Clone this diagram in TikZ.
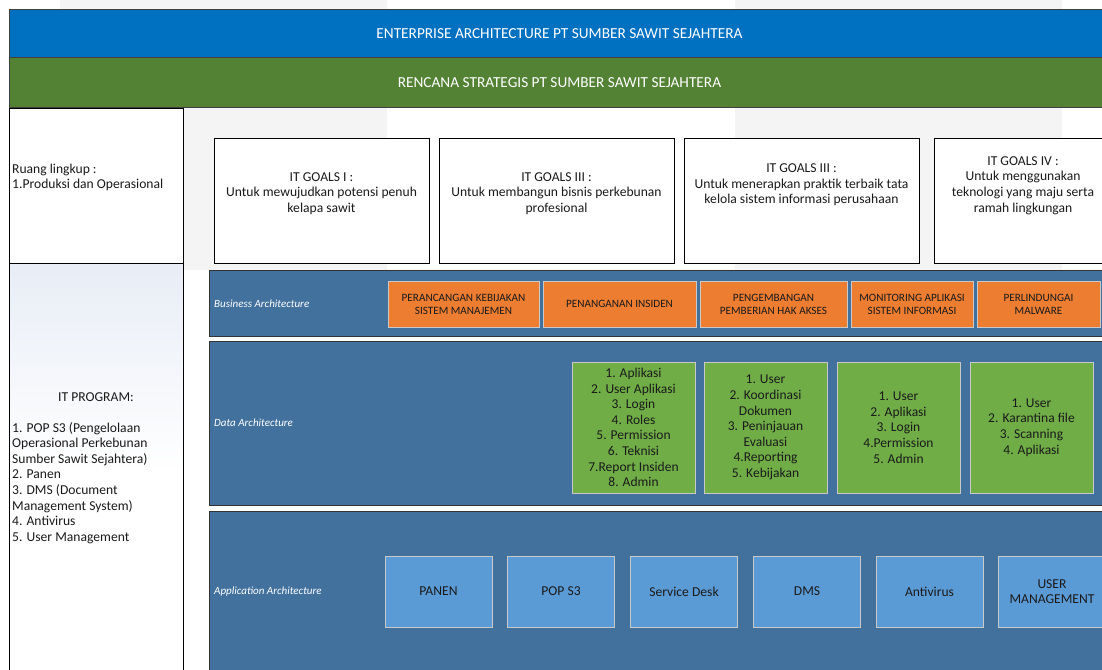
\documentclass[tikz,border=0pt]{standalone}
\usepackage{fontspec}
\setmainfont{Carlito}
\definecolor{hdrblue}{HTML}{0070C0}
\definecolor{hdrgreen}{HTML}{548235}
\definecolor{layerblue}{HTML}{41719C}
\definecolor{orangebox}{HTML}{ED7D31}
\definecolor{greenbox}{HTML}{70AD47}
\definecolor{appbox}{HTML}{5B9BD5}
\definecolor{lightbord}{HTML}{C9C9C9}
\definecolor{wm}{HTML}{F4F4F4}
\definecolor{progtop}{HTML}{E8EDF6}
\definecolor{txtdark}{HTML}{1A1A1A}
\begin{document}
\begin{tikzpicture}[x=1pt,y=-1pt,
  hdr/.style={draw=black!75, line width=0.9pt, anchor=north west, text=white, font=\fontsize{15.3}{17}\selectfont, inner sep=0pt},
  whitebox/.style={draw=black, line width=0.7pt, fill=white, anchor=north west, inner sep=0pt},
  layer/.style={draw=black!80, line width=0.9pt, fill=layerblue, anchor=north west, inner sep=0pt},
  layerlabel/.style={anchor=west, text=white, font=\fontsize{11}{12}\selectfont\itshape, inner sep=0pt},
  bodytext/.style={text=txtdark, font=\fontsize{13.6}{15.6}\selectfont, inner sep=0pt},
  obox/.style={draw=lightbord, line width=0.8pt, fill=orangebox, minimum height=46pt, inner sep=0pt, align=center, text=txtdark, font=\fontsize{11.2}{13}\selectfont},
  gbox/.style={draw=lightbord, line width=0.8pt, fill=greenbox, minimum height=131pt, minimum width=123pt, inner sep=0pt, align=center, text=txtdark, font=\fontsize{13.5}{15.65}\selectfont},
  abox/.style={draw=lightbord, line width=0.8pt, fill=appbox, minimum height=71pt, minimum width=107pt, inner sep=0pt, align=center, text=txtdark, font=\fontsize{13.6}{15.6}\selectfont}
]
\useasboundingbox (0,0) rectangle (1102,669);
\clip (0,0) rectangle (1102,669);
% faint watermark bands
\fill[wm] (60,0) rectangle (387,270);
\fill[wm] (735,0) rectangle (1062,270);

% headers
\node[hdr, fill=hdrblue, minimum width=1100pt, minimum height=48pt] (ea) at (9,9) {ENTERPRISE ARCHITECTURE PT SUMBER SAWIT SEJAHTERA};
\node[hdr, fill=hdrgreen, minimum width=1100pt, minimum height=50pt] (rs) at (9,57) {RENCANA STRATEGIS PT SUMBER SAWIT SEJAHTERA};

% left column
\node[whitebox, minimum width=174pt, minimum height=155pt] (ruang) at (9,108) {};
\node[bodytext, anchor=west, align=left] (ruangtxt) at (12,177.5) {Ruang lingkup :\\1.Produksi dan Operasional};
\node[draw=black, line width=0.7pt, top color=progtop, bottom color=white, middle color=white, anchor=north west, minimum width=174pt, minimum height=420pt, inner sep=0pt] (prog) at (9,263) {};
\node[bodytext] (progtitle) at (96,397) {IT PROGRAM:};
\node[bodytext, anchor=north west, align=left] (progtxt) at (12,422) {1. POP S3 (Pengelolaan\\Operasional Perkebunan\\Sumber Sawit Sejahtera)\\2. Panen\\3. DMS (Document\\Management System)\\4. Antivirus\\5. User Management};

% IT goals
\node[whitebox, minimum width=215pt, minimum height=125pt] (g1) at (214,138) {};
\node[whitebox, minimum width=235pt, minimum height=125pt] (g2) at (439,138) {};
\node[whitebox, minimum width=235pt, minimum height=125pt] (g3) at (684,138) {};
\node[whitebox, minimum width=178pt, minimum height=125pt] (g4) at (934,138) {};
\node[bodytext, align=center] (g1t) at (321.5,193.5) {IT GOALS I :\\Untuk mewujudkan potensi penuh\\kelapa sawit};
\node[bodytext, align=center] (g2t) at (556.5,193.5) {IT GOALS III :\\Untuk membangun bisnis perkebunan\\profesional};
\node[bodytext, align=center] (g3t) at (801.5,185) {IT GOALS III :\\Untuk menerapkan praktik terbaik tata\\kelola sistem informasi perusahaan};
\node[bodytext, align=center] (g4t) at (1023,185.5) {IT GOALS IV :\\Untuk menggunakan\\teknologi yang maju serta\\ramah lingkungan};

% layers
\node[layer, minimum width=900pt, minimum height=66pt] (bus) at (209,270) {};
\node[layer, minimum width=900pt, minimum height=164pt] (data) at (209,341) {};
\node[layer, minimum width=900pt, minimum height=170pt] (app) at (209,511) {};
\node[layerlabel] (busl) at (214,304) {Business Architecture};
\node[layerlabel] (datal) at (214,423) {Data Architecture};
\node[layerlabel] (appl) at (214,592) {Application Architecture};

% business boxes
\node[obox, minimum width=151pt] (o1) at (463.5,304) {PERANCANGAN KEBIJAKAN\\SISTEM MANAJEMEN};
\node[obox, minimum width=153pt] (o2) at (619.5,304) {PENANGANAN INSIDEN};
\node[obox, minimum width=147pt] (o3) at (773.5,304) {PENGEMBANGAN\\PEMBERIAN HAK AKSES};
\node[obox, minimum width=122pt] (o4) at (912,304) {MONITORING APLIKASI\\SISTEM INFORMASI};
\node[obox, minimum width=123pt] (o5) at (1038.5,304) {PERLINDUNGAI\\MALWARE};

% data boxes
\node[gbox] (d1) at (633.5,427.5) {1. Aplikasi\\2. User Aplikasi\\3. Login\\4. Roles\\5. Permission\\6. Teknisi\\7.Report Insiden\\8. Admin};
\node[gbox] (d2) at (765.5,427.5) {1. User\\2. Koordinasi\\Dokumen\\3. Peninjauan\\Evaluasi\\4.Reporting\\5. Kebijakan};
\node[gbox] (d3) at (898.5,427.5) {1. User\\2. Aplikasi\\3. Login\\4.Permission\\5. Admin};
\node[gbox] (d4) at (1031.5,427.5) {1. User\\2. Karantina file\\3. Scanning\\4. Aplikasi};

% application boxes
\node[abox] (a1) at (438.5,591.5) {PANEN};
\node[abox] (a2) at (561,591.5) {POP S3};
\node[abox] (a3) at (684,591.5) {Service Desk};
\node[abox] (a4) at (807,591.5) {DMS};
\node[abox] (a5) at (929.5,591.5) {Antivirus};
\node[abox, minimum width=108pt] (a6) at (1052,591.5) {USER\\MANAGEMENT};
\end{tikzpicture}
\end{document}
